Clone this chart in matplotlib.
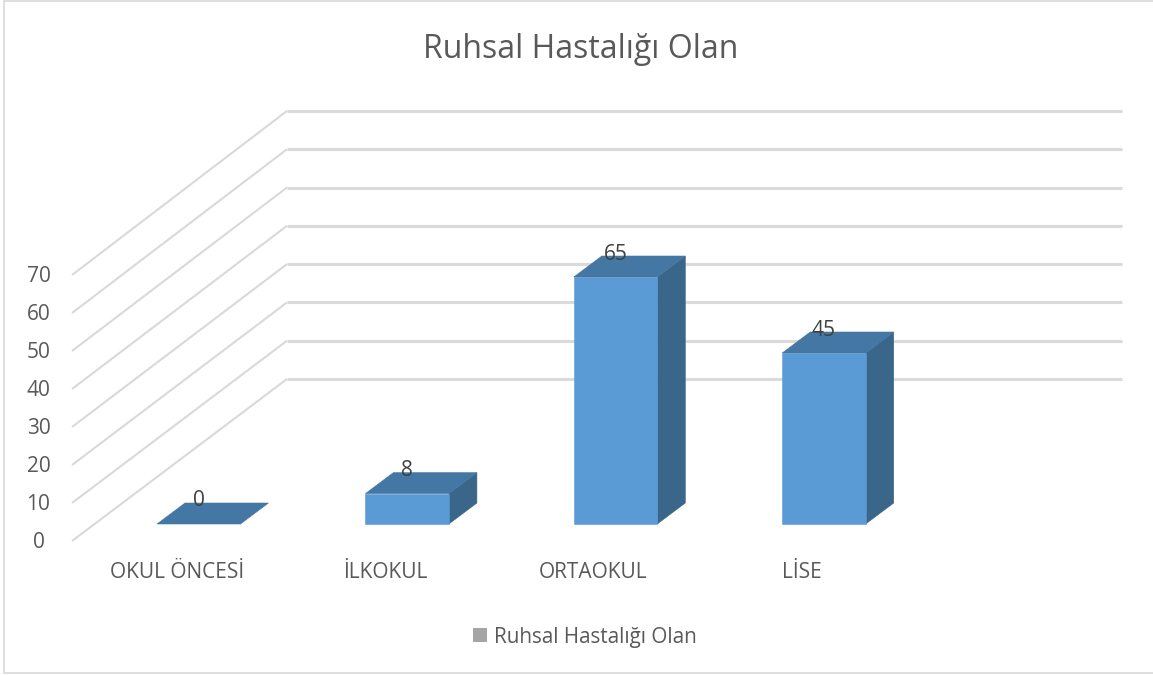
import matplotlib
matplotlib.use("Agg")
import matplotlib.pyplot as plt
from matplotlib.patches import Polygon, Rectangle

plt.rcParams['font.family'] = ['Open Sans', 'DejaVu Sans']

# Datos del grafico
categorias = ["OKUL ÖNCESİ", "İLKOKUL", "ORTAOKUL", "LİSE"]
valores = [0, 8, 65, 45]
ticks_y = [0, 10, 20, 30, 40, 50, 60, 70]
titulo = "Ruhsal Hastalığı Olan"

px_por_unidad = 3.8
ancho_barra = 83.5
paso = 208.4
x_barra0 = 157
y_base = 524
prof_x, prof_y = 28, -21

# Paso de valor a pixel (el eje va en pixeles, con y hacia abajo)
def y_frente(v):
    return 541 - v * 3.8

def y_fondo(v):
    return 379 - v * 3.83

fig = plt.figure(figsize=(11.53, 6.75), dpi=100)
ax = fig.add_axes([0, 0, 1, 1])
ax.set_xlim(0, 1153)
ax.set_ylim(675, 0)
ax.axis('off')

# Marco
ax.plot([4, 4, 1153], [1, 673, 673], color='#dcdcdc', lw=1.3)
ax.plot([4, 1153], [1, 1], color='#dcdcdc', lw=1.3)

# Rejilla: pared lateral y pared del fondo
for t in ticks_y:
    ax.plot([72, 287], [y_frente(t), y_fondo(t)], color='#d9d9d9', lw=1.5, solid_capstyle='butt', zorder=1)
    ax.plot([287, 1122], [y_fondo(t), y_fondo(t)], color='#dadada', lw=2.2, solid_capstyle='butt', zorder=1)
    ax.text(38.5, y_frente(t) + 2, str(t), ha='center', va='center', fontsize=15, color='#595959')

# Barras 3D
for i, (cat, v) in enumerate(zip(categorias, valores)):
    x0 = x_barra0 + i * paso
    x1 = x0 + ancho_barra
    y_top = y_base - v * px_por_unidad
    if v > 0:
        ax.add_patch(Polygon([(x1, y_base), (x1 + prof_x, y_base + prof_y), (x1 + prof_x, y_top + prof_y), (x1, y_top)],
                             facecolor='#3a6689', edgecolor='#3a6689', lw=0.4, zorder=3))
        ax.add_patch(Rectangle((x0, y_top), ancho_barra, v * px_por_unidad, facecolor='#5b9bd5', edgecolor='#5b9bd5', lw=0.4, zorder=3))
    ax.add_patch(Polygon([(x0, y_top), (x1, y_top), (x1 + prof_x, y_top + prof_y), (x0 + prof_x, y_top + prof_y)],
                         facecolor='#4577a4', edgecolor='#4577a4', lw=0.4, zorder=3))
    ax.text(x0 + ancho_barra / 2, y_top + prof_y - 2, str(v), ha='center', va='center', fontsize=15, color='#404040', zorder=4)
    ax.text(x0 + ancho_barra / 2 - 22, 572, cat, ha='center', va='center', fontsize=15, color='#595959')

# Titulo y leyenda
ax.text(581, 49, titulo, ha='center', va='center', fontsize=23, color='#595959')
ax.add_patch(Rectangle((473, 628), 14, 14, facecolor='#a5a5a5', edgecolor='none'))
ax.text(494, 637, titulo, ha='left', va='center', fontsize=14.9, color='#595959')

fig.savefig("out.png", dpi=100)
